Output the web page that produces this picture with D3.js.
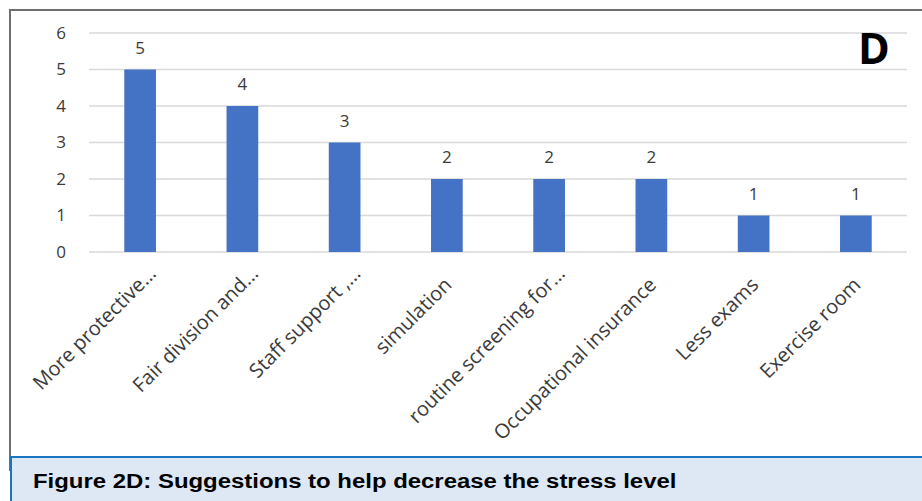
<!DOCTYPE html>
<html>
<head>
<meta charset="utf-8">
<script src="https://cdn.jsdelivr.net/npm/d3@7"></script>
<style>
  html, body { margin: 0; padding: 0; background: #fff; }
  svg { display: block; }
</style>
</head>
<body>
<svg id="chart" width="922" height="501"></svg>
<script>
// Suggestions to help decrease the stress level (count of responses)
const categories = [
  "More protective...",
  "Fair division and...",
  "Staff support ,...",
  "simulation",
  "routine screening for...",
  "Occupational insurance",
  "Less exams",
  "Exercise room"
];
const counts = [5, 4, 3, 2, 2, 2, 1, 1];
const yTicks = [0, 1, 2, 3, 4, 5, 6];
const panelLetter = "D";
const caption = "Figure 2D: Suggestions to help decrease the stress level";

const svg = d3.select("#chart");
const W = 922, H = 501;
const plot = { left: 89, right: 907, top: 33, bottom: 252 };

// outer frame of the chart area
svg.append("rect")
  .attr("x", 10).attr("y", 10)
  .attr("width", W + 20).attr("height", 460)
  .attr("fill", "#fff")
  .attr("stroke", "#6f6f6f").attr("stroke-width", 2);

const x = d3.scaleBand()
  .domain(categories)
  .range([plot.left, plot.right])
  .paddingInner(0.69)
  .paddingOuter(0.345);

const y = d3.scaleLinear()
  .domain([0, 6])
  .range([plot.bottom, plot.top]);

// horizontal gridlines
svg.append("g")
  .selectAll("line")
  .data(yTicks)
  .join("line")
  .attr("x1", plot.left).attr("x2", plot.right)
  .attr("y1", d => y(d)).attr("y2", d => y(d))
  .attr("stroke", "#d9d9d9").attr("stroke-width", 1.3);

// y axis tick labels
const yAxis = d3.axisLeft(y).tickValues(yTicks).tickFormat(d3.format("d"))
  .tickSize(0).tickPadding(0);
const gy = svg.append("g").attr("transform", "translate(66,0)").call(yAxis);
gy.select(".domain").remove();
gy.selectAll("text")
  .attr("font-family", "'Open Sans', sans-serif")
  .attr("font-size", 17)
  .attr("fill", "#3a3a3a");

// bars
svg.append("g")
  .selectAll("rect")
  .data(counts)
  .join("rect")
  .attr("x", (d, i) => x(categories[i]))
  .attr("y", d => y(d))
  .attr("width", x.bandwidth())
  .attr("height", d => y(0) - y(d))
  .attr("fill", "#4472c4");

// value labels above bars
svg.append("g")
  .selectAll("text")
  .data(counts)
  .join("text")
  .attr("x", (d, i) => x(categories[i]) + x.bandwidth() / 2)
  .attr("y", d => y(d) - 16)
  .attr("text-anchor", "middle")
  .attr("font-family", "'Open Sans', sans-serif")
  .attr("font-size", 17)
  .attr("fill", "#3a3a3a")
  .text(d => d);

// rotated category labels; the trailing ellipsis hangs past the anchor
const labelFont = "'Open Sans', sans-serif";
const labelSize = 20;
const measure = svg.append("text")
  .attr("font-family", labelFont).attr("font-size", labelSize)
  .attr("visibility", "hidden");
function textWidth(s) {
  measure.text(s);
  return measure.node().getComputedTextLength();
}
const gx = svg.append("g");
categories.forEach(c => {
  const m = c.match(/^(.*?)(\.\.\.)?$/);
  const main = m[1];
  const mainW = textWidth(main);
  const cx = x(c) + x.bandwidth() / 2;
  gx.append("text")
    .attr("transform", `translate(${cx - 4},${plot.bottom + 24}) rotate(-45)`)
    .attr("x", -mainW)
    .attr("dy", "0.71em")
    .attr("text-anchor", "start")
    .attr("font-family", labelFont)
    .attr("font-size", labelSize)
    .attr("fill", "#3a3a3a")
    .text(c);
});
measure.remove();

// panel letter
svg.append("text")
  .attr("x", 874).attr("y", 64)
  .attr("text-anchor", "middle")
  .attr("font-family", "'Open Sans', sans-serif")
  .attr("font-weight", "bold")
  .attr("font-size", 43)
  .attr("fill", "#000")
  .text(panelLetter);

// caption bar
svg.append("rect")
  .attr("x", 11).attr("y", 457)
  .attr("width", W).attr("height", 60)
  .attr("fill", "#dde8f4")
  .attr("stroke", "#1a75c2").attr("stroke-width", 2);

svg.append("text")
  .attr("transform", "translate(33,488) scale(1.14,1)")
  .attr("font-family", "'Liberation Sans', Arial, sans-serif")
  .attr("font-weight", "bold")
  .attr("font-size", 21)
  .attr("fill", "#000")
  .text(caption);
</script>
</body>
</html>
